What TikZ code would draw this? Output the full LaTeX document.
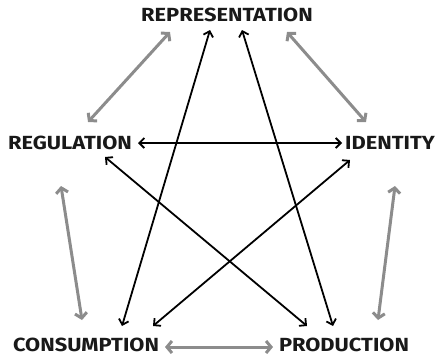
\documentclass[tikz,border=0pt]{standalone}
\usepackage{fontspec}
\setmainfont[FakeStretch=1.15]{Fira Sans}
\usetikzlibrary{arrows.meta}
\tikzset{
  lbl/.style={font=\bfseries\fontsize{19}{19}\selectfont, text=black!90, inner sep=0pt},
  grayarr/.style={draw=black!45, line width=3pt, {Straight Barb[length=5pt,width=12pt]}-{Straight Barb[length=5pt,width=12pt]}},
  blackarr/.style={draw=black, line width=1.8pt, {Straight Barb[length=5pt,width=10pt]}-{Straight Barb[length=5pt,width=10pt]}}
}
\begin{document}
\begin{tikzpicture}[x=1pt,y=-1pt]
\useasboundingbox (0,0) rectangle (437,359);
\node[lbl] (rep) at (227,15) {REPRESENTATION};
\node[lbl] (reg) at (70,143) {REGULATION};
\node[lbl] (id) at (390,143) {IDENTITY};
\node[lbl] (cons) at (86,345) {CONSUMPTION};
\node[lbl] (prod) at (344,345) {PRODUCTION};
% gray arrows
\draw[grayarr] ([shift={(18,-21)}]reg.center) -- ([shift={(-57,17)}]rep.center);
\draw[grayarr] ([shift={(60,17)}]rep.center) -- ([shift={(-24,-21)}]id.center);
\draw[grayarr] ([shift={(-9,43)}]reg.center) -- ([shift={(-4,-25)}]cons.center);
\draw[grayarr] ([shift={(5,43)}]id.center) -- ([shift={(34,-25)}]prod.center);
\draw[grayarr] ([shift={(79,2)}]cons.center) -- ([shift={(-71,2)}]prod.center);
% black arrows
\draw[blackarr] ([shift={(68,0)}]reg.center) -- ([shift={(-48,0)}]id.center);
\draw[blackarr] ([shift={(-17,15)}]rep.center) -- ([shift={(36,-19)}]cons.center);
\draw[blackarr] ([shift={(15,15)}]rep.center) -- ([shift={(-11,-19)}]prod.center);
\draw[blackarr] ([shift={(35,14)}]reg.center) -- ([shift={(-37,-19)}]prod.center);
\draw[blackarr] ([shift={(-40,17)}]id.center) -- ([shift={(67,-19)}]cons.center);
\end{tikzpicture}
\end{document}
